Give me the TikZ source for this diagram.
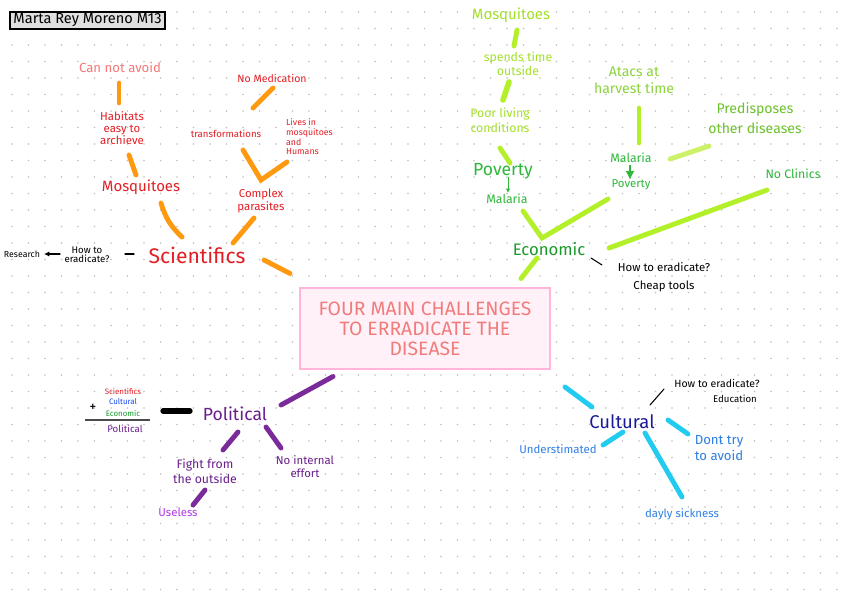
\documentclass[tikz,border=0pt]{standalone}
\usepackage{fontspec}
\setmainfont{Fira Sans}
\usetikzlibrary{arrows.meta,calc}
\newcommand\setfs[2]{\fontsize{#1}{#2}\selectfont}
\definecolor{scired}{HTML}{E31E24}
\definecolor{sciredlt}{HTML}{F47A7A}
\definecolor{sciline}{HTML}{FF9A10}
\definecolor{econdk}{HTML}{1A9A2A}
\definecolor{econmd}{HTML}{2DB83A}
\definecolor{econpre}{HTML}{6CC22C}
\definecolor{econat}{HTML}{8CD43C}
\definecolor{econlime}{HTML}{A4E02A}
\definecolor{ecoline}{HTML}{B4F02A}
\definecolor{ecolinelt}{HTML}{CCF26A}
\definecolor{poltext}{HTML}{6A1E8C}
\definecolor{polline}{HTML}{7B2A99}
\definecolor{polviolet}{HTML}{B03AE6}
\definecolor{cultext}{HTML}{1A1A9A}
\definecolor{culblue}{HTML}{2E7FE6}
\definecolor{culline}{HTML}{22CCF0}
\definecolor{boxfill}{HTML}{FFF1F7}
\definecolor{boxline}{HTML}{FFB6DA}
\definecolor{boxtext}{HTML}{F07C7C}
\begin{document}
\begin{tikzpicture}[x=0.02cm,y=-0.02cm,>=Latex,
  lbl/.style={align=center,inner sep=1pt},
  sci/.style={draw=sciline,line width=2.8pt,line cap=round},
  eco/.style={draw=ecoline,line width=2.8pt,line cap=round},
  cul/.style={draw=culline,line width=2.8pt,line cap=round},
  pol/.style={draw=polline,line width=2.8pt,line cap=round},
  pen/.style={draw=black,line width=0.6pt,line cap=round}]
\useasboundingbox[fill=white] (0,0) rectangle (848,599);
\foreach \i in {0,...,50}
  \foreach \j in {0,...,35}
    \fill[black!25] (12+16.5*\i,12+16.5*\j) circle (0.45pt);
\node[draw,fill=black!12,line width=0.8pt,minimum width=3.1cm,minimum height=0.34cm,inner sep=0pt,font=\setfs{8.3}{9}] (title) at (87.5,20.5) {Marta Rey Moreno M13};
\node[draw=boxline,line width=1.3pt,fill=boxfill,minimum width=5cm,minimum height=1.62cm,text=boxtext,align=center,font=\setfs{11}{11.3}] (central) at (425,328.5) {FOUR MAIN CHALLENGES\\TO ERRADICATE THE\\DISEASE};
% scientifics
\node[lbl,text=sciredlt,font=\setfs{7.5}{8}] (canavoid) at (120,67) {Can not avoid};
\node[lbl,text=scired,font=\setfs{6.5}{6.8}] (habitats) at (122,128) {Habitats\\easy to\\archieve};
\node[lbl,text=scired,font=\setfs{8.5}{9}] (mosqS) at (141,187) {Mosquitoes};
\node[lbl,text=scired,font=\setfs{12}{13}] (scientifics) at (197,255) {Scientifics};
\node[lbl,text=scired,font=\setfs{6}{7}] (nomed) at (272,78) {No Medication};
\node[lbl,text=scired,font=\setfs{5.5}{6}] (transf) at (226,134) {transformations};
\node[lbl,text=scired,font=\setfs{5}{5.5},align=left,anchor=west] (lives) at (284,137) {Lives in\\mosquitoes\\and\\Humans};
\node[lbl,text=scired,font=\setfs{6.5}{5.5}] (complex) at (261,201) {Complex\\parasites};
\node[lbl,font=\setfs{5.5}{5.2}] (howS) at (87,255) {How to\\eradicate?};
\node[lbl,font=\setfs{5}{6}] (research) at (22,254) {Research};
\draw[sci] ([shift={(-1,16)}]canavoid.center) -- ([shift={(-3,-25)}]habitats.center);
\draw[sci] ([shift={(7,27)}]habitats.center) -- ([shift={(-5,-12)}]mosqS.center);
\draw[sci] ([shift={(20,16)}]mosqS.center) to[bend right=15] ([shift={(-15,-18)}]scientifics.center);
\draw[sci] ([shift={(1,10)}]nomed.center) -- ([shift={(27,-26)}]transf.center);
\draw[sci] ([shift={(17,16)}]transf.center) -- ([shift={(0,-21)}]complex.center) -- ([shift={(3,25)}]lives.west);
\draw[sci] ([shift={(-7,17)}]complex.center) -- ([shift={(36,-12)}]scientifics.center);
\draw[sci] ([shift={(67,5)}]scientifics.center) -- ([shift={(-135,-55)}]central.center);
\draw[pen,->,>={Latex[length=3pt,width=3pt]}] ([shift={(-27,-1)}]howS.center) -- ([shift={(22,0)}]research.center);
\draw[pen] ([shift={(38,-1)}]howS.center) -- ([shift={(-63,-1)}]scientifics.center);
% economic
\node[lbl,text=econlime,font=\setfs{8.5}{9}] (mosqE) at (511,15) {Mosquitoes};
\node[lbl,text=econlime,font=\setfs{7}{6.8}] (spends) at (518,64) {spends time\\outside};
\node[lbl,text=econlime,font=\setfs{7}{8.5}] (poorliving) at (500,120) {Poor living\\conditions};
\node[lbl,text=econat,font=\setfs{8}{9.6}] (atacs) at (634,80) {Atacs at\\harvest time};
\node[lbl,text=econpre,font=\setfs{8}{11.3}] (predis) at (755,118) {Predisposes\\other diseases};
\node[lbl,text=econmd,font=\setfs{10}{11}] (povertyL) at (503,171) {Poverty};
\node[lbl,text=econmd,font=\setfs{7}{8}] (malariaL) at (507,199) {Malaria};
\node[lbl,text=econmd,font=\setfs{7}{8}] (malariaR) at (631,158) {Malaria};
\node[lbl,text=econmd,font=\setfs{6.5}{7}] (povertyR) at (631,185) {Poverty};
\node[lbl,text=econmd,font=\setfs{7}{8}] (noclinics) at (793,174) {No Clinics};
\node[lbl,text=econdk,font=\setfs{9.5}{10}] (economic) at (549,249) {Economic};
\node[lbl,font=\setfs{6.5}{10}] (howE) at (664,277) {How to eradicate?\\Cheap tools};
\draw[eco] ([shift={(6,15)}]mosqE.center) -- ([shift={(-4,-18)}]spends.center);
\draw[eco,line width=3.2pt] ([shift={(-9,18)}]spends.center) -- ([shift={(3,-20)}]poorliving.center);
\draw[eco] ([shift={(0,28)}]poorliving.center) -- ([shift={(7,-8)}]povertyL.center);
\draw[eco] ([shift={(5,28)}]atacs.center) -- ([shift={(8,-15)}]malariaR.center);
\draw[eco,draw=ecolinelt] ([shift={(39,1)}]malariaR.center) -- ([shift={(-46,28)}]predis.center);
\draw[eco] ([shift={(16,12)}]malariaL.center) -- ([shift={(-7,-11)}]economic.center) -- ([shift={(-23,14)}]povertyR.center);
\draw[eco] ([shift={(-26,16)}]noclinics.center) -- ([shift={(60,-1)}]economic.center);
\draw[eco] ([shift={(-12,9)}]economic.center) -- ([shift={(96,-50)}]central.center);
\draw[pen] ([shift={(42,9)}]economic.center) -- ([shift={(-62,-12)}]howE.center);
\draw[draw=econmd,line width=0.5pt,->,>={Latex[length=2.5pt,width=2.5pt]}] ([shift={(5,6)}]povertyL.center) -- ([shift={(1,-6)}]malariaL.center);
\draw[draw=econmd,line width=1pt,->,>={Latex[length=5pt,width=5pt]}] ([shift={(-1,7)}]malariaR.center) -- ([shift={(-1,-5)}]povertyR.center);
% political
\node[lbl,text=poltext,font=\setfs{10}{11}] (political) at (235,414) {Political};
\node[lbl,text=poltext,font=\setfs{7}{8.5}] (fight) at (205,471) {Fight from\\the outside};
\node[lbl,text=poltext,font=\setfs{6.5}{7.4}] (nointernal) at (305,467) {No internal\\effort};
\node[lbl,text=polviolet,font=\setfs{6.5}{7}] (useless) at (178,512) {Useless};
\node[lbl,text=scired,font=\setfs{4.5}{5}] (fracS) at (123,391) {Scientifics};
\node[lbl,text=culblue!60!blue,font=\setfs{4.5}{5}] (fracC) at (123,402) {Cultural};
\node[lbl,text=econdk,font=\setfs{4.5}{5}] (fracE) at (123,413) {Economic};
\node[lbl,font=\setfs{8}{8}] (plus) at (93,408) {+};
\node[lbl,text=poltext,font=\setfs{5.5}{6}] (fracP) at (125,429) {Political};
\draw[black!70,line width=0.8pt] ([shift={(-40,-9)}]fracP.center) -- ([shift={(25,-9)}]fracP.center);
\draw[black,line width=3pt,line cap=round] ([shift={(-72,-3)}]political.center) -- ([shift={(-45,-3)}]political.center);
\draw[pol] ([shift={(-92,48)}]central.center) -- ([shift={(46,-9)}]political.center);
\draw[pol] ([shift={(3,18)}]political.center) -- ([shift={(18,-21)}]fight.center);
\draw[pol] ([shift={(31,13)}]political.center) -- ([shift={(-24,-19)}]nointernal.center);
\draw[pol] ([shift={(0,19)}]fight.center) -- ([shift={(15,-7)}]useless.center);
% cultural
\node[lbl,text=cultext,font=\setfs{10.5}{11}] (cultural) at (622,422) {Cultural};
\node[lbl,text=culblue,font=\setfs{6.5}{7}] (underst) at (558,449) {Understimated};
\node[lbl,text=culblue,font=\setfs{7.5}{9.6}] (donttry) at (719,448) {Dont try\\to avoid};
\node[lbl,text=culblue,font=\setfs{6.5}{7}] (dayly) at (682,514) {dayly sickness};
\node[lbl,font=\setfs{6}{7}] (howC) at (717,383) {How to eradicate?};
\node[lbl,font=\setfs{5.5}{6}] (educ) at (735,399) {Education};
\draw[cul] ([shift={(-57,-35)}]cultural.center) -- ([shift={(-30,-15)}]cultural.center);
\draw[cul] ([shift={(1,10)}]cultural.center) -- ([shift={(45,-4)}]underst.center);
\draw[cul] ([shift={(46,-2)}]cultural.center) -- ([shift={(-31,-14)}]donttry.center);
\draw[cul] ([shift={(23,11)}]cultural.center) -- ([shift={(0,-17)}]dayly.center);
\draw[pen] ([shift={(28,-17)}]cultural.center) -- ([shift={(-53,6)}]howC.center);
\end{tikzpicture}
\end{document}
